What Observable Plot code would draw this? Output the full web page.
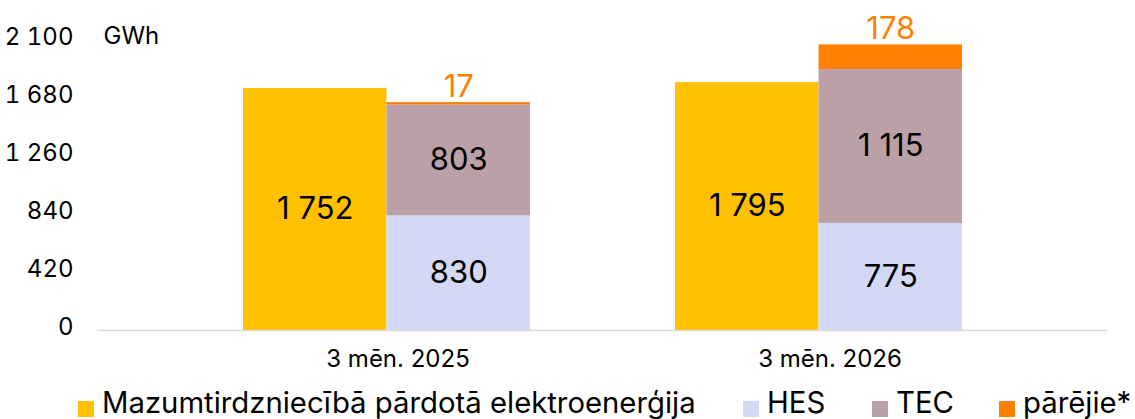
<!DOCTYPE html>
<html><head><meta charset="utf-8">
<script src="https://cdn.jsdelivr.net/npm/d3@7"></script>
<script src="https://cdn.jsdelivr.net/npm/@observablehq/plot@0.6"></script>
<style>
html,body{margin:0;padding:0;background:#fff;}
#wrap{position:relative;width:1135px;height:419px;overflow:hidden;font-family:Inter,sans-serif;}
#wrap svg{display:block;}
.legend{position:absolute;left:0;top:386px;width:1135px;height:34px;font-size:29.3px;line-height:34px;color:#000;white-space:nowrap;}
.legend .it{position:absolute;top:0;display:flex;align-items:flex-start;}
.legend .sw{width:16px;height:16px;margin-top:15px;margin-right:8px;}
</style></head>
<body><div id="wrap"></div>
<script>
// ---- data ----
const periods = ["3 mēn. 2025", "3 mēn. 2026"];
const retail = [1752, 1795];
const hes = [830, 775];
const tec = [803, 1115];
const other = [17, 178];
const seriesNames = ["Mazumtirdzniecībā pārdotā elektroenerģija", "HES", "TEC", "pārējie*"];
const seriesColors = ["#FFC000", "#D3D9F4", "#BBA0A8", "#FF7F00"];
const yTicks = [0, 420, 840, 1260, 1680, 2100];
const unit = "GWh";

// ---- tables ----
const retailRows = periods.map((p, i) => ({period: p, series: seriesNames[0], value: retail[i]}));
const genRows = [];
periods.forEach((p, i) => {
  genRows.push({period: p, series: seriesNames[1], value: hes[i]});
  genRows.push({period: p, series: seriesNames[2], value: tec[i]});
  genRows.push({period: p, series: seriesNames[3], value: other[i]});
});

const fmt = d3.formatLocale({decimal: ",", thousands: "\u00a0", grouping: [3], currency: ["", ""]}).format(",d");

// ---- layout ----
const W = 1135, H = 385, mL = 97, mR = 28, mT = 40, mB = 55;
const pad = 0.336;
const step = (W - mL - mR) / (periods.length - pad + 2 * pad);
const bw = step * (1 - pad);

const chart = Plot.plot({
  width: W, height: H,
  marginLeft: mL, marginRight: mR, marginTop: mT, marginBottom: mB,
  style: {fontFamily: "Inter, sans-serif", background: "#fff", color: "#000"},
  x: {domain: periods, padding: pad, label: null},
  y: {domain: [0, 2100], label: null},
  color: {domain: seriesNames, range: seriesColors},
  marks: [
    Plot.barY(retailRows, {x: "period", y: "value", fill: "series", insetRight: bw / 2}),
    Plot.barY(genRows, Plot.stackY({x: "period", y: "value", z: "series", fill: "series", insetLeft: bw / 2})),
    Plot.ruleY([0], {stroke: "#d9d9d9", strokeWidth: 1.5}),
    Plot.text(retailRows, Plot.stackY({x: "period", y: "value", text: d => fmt(d.value), dx: -bw / 4, fontSize: 31, fill: "#000"})),
    Plot.text(genRows, Plot.stackY({x: "period", y: "value", z: "series",
      text: d => d.series === seriesNames[3] ? null : fmt(d.value), dx: bw / 4, fontSize: 31, fill: "#000"})),
    Plot.text(genRows, Plot.stackY2({x: "period", y: "value", z: "series",
      text: d => d.series === seriesNames[3] ? fmt(d.value) : null, dx: bw / 4, dy: -6, lineAnchor: "bottom", fontSize: 31, fill: seriesColors[3]})),
    Plot.axisY(yTicks, {tickFormat: fmt, tickSize: 0, tickPadding: 24, fontSize: 24, dy: -3, label: null}),
    Plot.axisX({tickSize: 0, tickPadding: 19, fontSize: 24, dx: 11, label: null}),
    Plot.text([unit], {frameAnchor: "top-left", text: d => d, textAnchor: "start", lineAnchor: "middle", dx: 6, dy: -4, fontSize: 24, fill: "#000"})
  ]
});

const wrap = document.getElementById("wrap");
wrap.appendChild(chart);

const legendLeft = [78, 743, 872, 999];
const legend = document.createElement("div");
legend.className = "legend";
seriesNames.forEach((name, i) => {
  const it = document.createElement("div");
  it.className = "it";
  it.style.left = legendLeft[i] + "px";
  const sw = document.createElement("span");
  sw.className = "sw";
  sw.style.background = seriesColors[i];
  const tx = document.createElement("span");
  tx.textContent = name;
  it.appendChild(sw); it.appendChild(tx);
  legend.appendChild(it);
});
wrap.appendChild(legend);
</script>
</body></html>
